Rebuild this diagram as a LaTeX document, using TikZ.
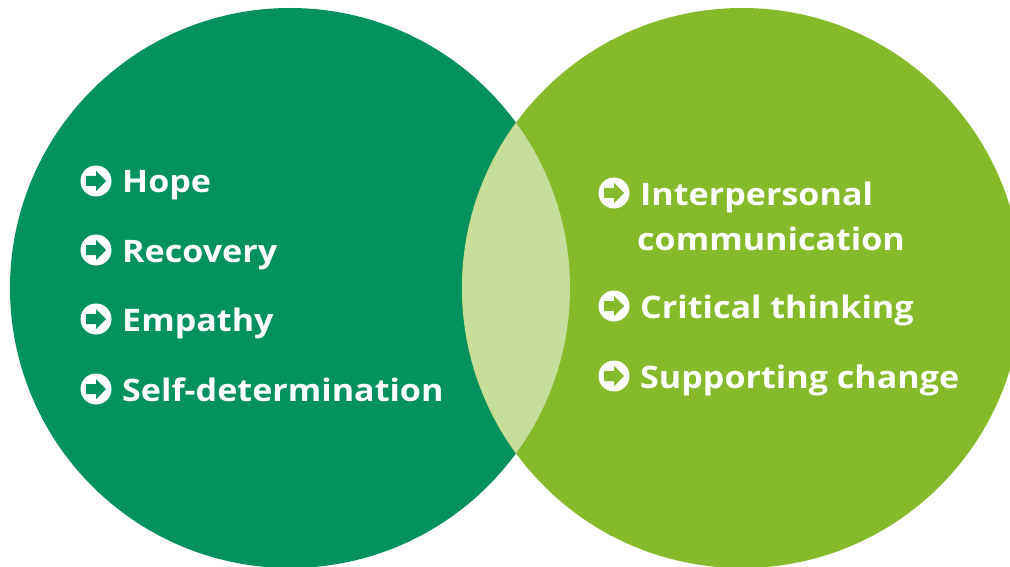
\documentclass[tikz,border=0pt]{standalone}
\usepackage{fontspec}
\setmainfont{Open Sans}[FakeStretch=1.1]
\definecolor{dgreen}{HTML}{03915E}
\definecolor{lgreen}{HTML}{86BA2B}
\definecolor{pgreen}{HTML}{C7DE9A}
\tikzset{
  lbl/.style={anchor=base west, inner sep=0pt, text=white, font=\bfseries\fontsize{31}{35}\selectfont},
  pics/icon/.style={code={
    \fill[white] (0,0) circle (15.5pt);
    \fill[#1] (-10pt,-5pt) -- (0pt,-5pt) -- (0pt,-10pt) -- (10pt,0pt) -- (0pt,10pt) -- (0pt,5pt) -- (-10pt,5pt) -- cycle;
  }}
}
\begin{document}
\begin{tikzpicture}[x=1pt,y=-1pt]
\useasboundingbox (0,0) rectangle (1010,567);
\fill[dgreen] (290,288) circle (280pt);
\fill[lgreen] (742,288) circle (280pt);
\begin{scope}
  \clip (290,288) circle (280pt);
  \fill[pgreen] (742,288) circle (280pt);
\end{scope}
% left list
\pic at (96,181) {icon=dgreen};
\node[lbl] (hope) at (122,193) {Hope};
\pic at (96,250) {icon=dgreen};
\node[lbl] (recovery) at (122,262) {Recovery};
\pic at (96,319) {icon=dgreen};
\node[lbl] (empathy) at (122,331) {Empathy};
\pic at (96,389) {icon=dgreen};
\node[lbl] (selfdet) at (122,401) {Self-determination};
% right list
\pic at (614,193) {icon=lgreen};
\node[lbl] (interp) at (640,205) {Interpersonal};
\node[lbl] (comm) at (637,250) {communication};
\pic at (614,306) {icon=lgreen};
\node[lbl] (critical) at (640,318) {Critical thinking};
\pic at (614,376) {icon=lgreen};
\node[lbl] (support) at (640,388) {Supporting change};
\end{tikzpicture}
\end{document}
